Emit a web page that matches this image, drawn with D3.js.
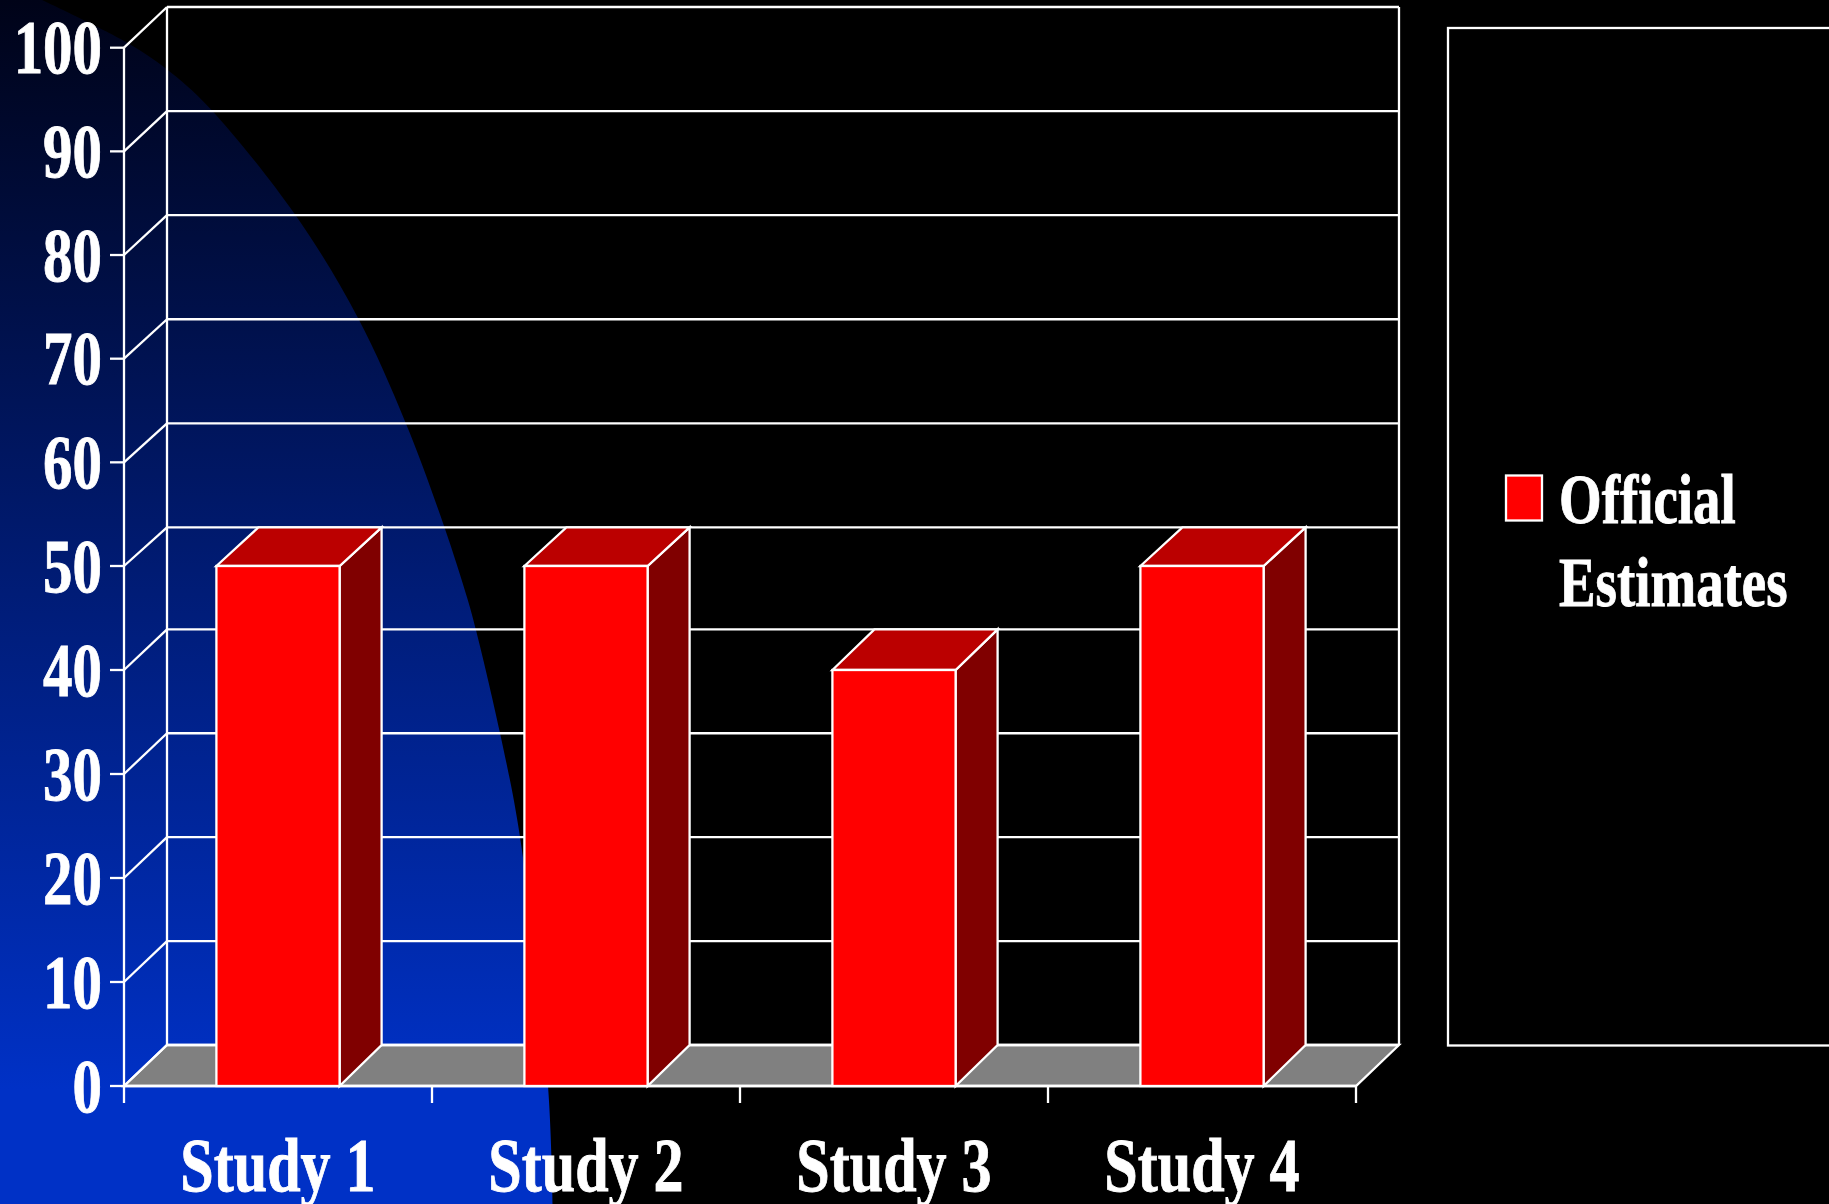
<!DOCTYPE html>
<html>
<head>
<meta charset="utf-8">
<title>Official Estimates by Study</title>
<script src="https://cdn.jsdelivr.net/npm/d3@7/dist/d3.min.js"></script>
<style>
  html, body { margin: 0; padding: 0; background: #000; overflow: hidden; }
  svg { display: block; }
  text { font-family: "Liberation Serif", serif; font-weight: bold; fill: #fff; stroke: #fff; stroke-width: 0.9px; }
</style>
</head>
<body>
<svg id="chart" width="1829" height="1204"></svg>
<script>
// Chart values
const categories = ["Study 1", "Study 2", "Study 3", "Study 4"];
const officialEstimates = [50, 50, 40, 50];
const yTicks = [0, 10, 20, 30, 40, 50, 60, 70, 80, 90, 100];
const legendLines = ["Official", "Estimates"];

// Slide backdrop: outline of the blue swoosh on the left edge
const swooshEdge = [
  [42, 0], [126, 42], [166.5, 69], [208.6, 107], [294.7, 214], [358, 318],
  [405.7, 423], [444, 526], [467.5, 599], [475.7, 629], [500, 733], [520, 837],
  [548, 1086], [552.7, 1204]
];

const WIDTH = 1829, HEIGHT = 1204;
const wallDepthX = 43;                   // horizontal offset of the back wall
const barDepthX = 42;                    // horizontal extrusion of each bar
const plot = { left: 124, right: 1356, top: 47.7, bottom: 1086 };
const colors = {
  line: "#ffffff", face: "#ff0000", top: "#bb0000", side: "#800000", floor: "#808080"
};
const strokeW = 2.3;

const svg = d3.select("#chart");

// Front plane and back wall each snap to slightly uneven pixel rows
const y = d3.scaleLinear().domain([0, 40, 50, 100]).range([plot.bottom, 670, 566, plot.top]);
const yBack = d3.scaleLinear().domain([0, 40, 50, 100]).range([1045, 629.3, 527.4, 7]);
const x = d3.scaleBand().domain(categories)
  .range([plot.left, plot.right])
  .paddingInner(0.6).paddingOuter(0.3);

// Backdrop gradient and swoosh
const defs = svg.append("defs");
const grad = defs.append("linearGradient")
  .attr("id", "swoosh").attr("gradientUnits", "userSpaceOnUse")
  .attr("x1", 0).attr("y1", 0).attr("x2", 0).attr("y2", 1090);
grad.append("stop").attr("offset", 0).attr("stop-color", "#000318");
grad.append("stop").attr("offset", 1).attr("stop-color", "#0031c6");

svg.append("rect").attr("width", WIDTH).attr("height", HEIGHT).attr("fill", "#000");

const edgePath = d3.line().curve(d3.curveCatmullRom.alpha(0.5))(swooshEdge);
svg.append("path")
  .attr("d", edgePath + `L0,${HEIGHT}L0,0Z`)
  .attr("fill", "url(#swoosh)");

const lineAttrs = sel => sel
  .attr("stroke", colors.line).attr("stroke-width", strokeW).attr("fill", "none");

// Floor
const floorPts = [
  [plot.left, y(0)], [plot.left + wallDepthX, yBack(0)],
  [plot.right + wallDepthX, yBack(0)], [plot.right, y(0)]
];
svg.append("polygon")
  .attr("points", floorPts.join(" "))
  .call(lineAttrs).attr("fill", colors.floor);

// Gridlines: back wall plus the diagonal run across the left wall
const grid = svg.append("g");
grid.selectAll("line.back").data(yTicks).join("line").attr("class", "back")
  .attr("x1", plot.left + wallDepthX).attr("x2", plot.right + wallDepthX)
  .attr("y1", d => yBack(d)).attr("y2", d => yBack(d))
  .call(lineAttrs);
grid.selectAll("line.diag").data(yTicks).join("line").attr("class", "diag")
  .attr("x1", plot.left).attr("x2", plot.left + wallDepthX)
  .attr("y1", d => y(d)).attr("y2", d => yBack(d))
  .call(lineAttrs);
grid.append("line")
  .attr("x1", plot.left + wallDepthX).attr("x2", plot.left + wallDepthX)
  .attr("y1", yBack(100)).attr("y2", yBack(0)).call(lineAttrs);
grid.append("line")
  .attr("x1", plot.right + wallDepthX).attr("x2", plot.right + wallDepthX)
  .attr("y1", yBack(100)).attr("y2", yBack(0)).call(lineAttrs);

// Value axis
const yAxis = svg.append("g");
yAxis.append("line")
  .attr("x1", plot.left).attr("x2", plot.left)
  .attr("y1", y(100)).attr("y2", y(0)).call(lineAttrs);
yAxis.selectAll("line.tick").data(yTicks).join("line").attr("class", "tick")
  .attr("x1", plot.left - 14).attr("x2", plot.left)
  .attr("y1", d => y(d)).attr("y2", d => y(d)).call(lineAttrs);
yAxis.selectAll("text").data(yTicks).join("text")
  .attr("text-anchor", "end")
  .attr("font-size", 77)
  .attr("transform", d => `translate(102,${y(d) + 25.5}) scale(0.765,1)`)
  .text(d => d);

// Category axis: ticks sit on the band boundaries
const edges = d3.range(categories.length + 1).map(i => plot.left + i * x.step());
const xAxis = svg.append("g");
xAxis.append("line")
  .attr("x1", plot.left).attr("x2", plot.right)
  .attr("y1", y(0)).attr("y2", y(0)).call(lineAttrs);
xAxis.selectAll("line.tick").data(edges).join("line").attr("class", "tick")
  .attr("x1", d => d).attr("x2", d => d)
  .attr("y1", y(0)).attr("y2", y(0) + 17).call(lineAttrs);
xAxis.selectAll("text").data(categories).join("text")
  .attr("text-anchor", "middle")
  .attr("font-size", 77)
  .attr("transform", d => `translate(${x(d) + x.bandwidth() / 2},1190.5) scale(0.78,1)`)
  .text(d => d);

// Extruded bars
const bars = svg.append("g").selectAll("g")
  .data(categories.map((c, i) => ({ c, v: officialEstimates[i] })))
  .join("g");
const corners = d => {
  const l = x(d.c), r = l + x.bandwidth();
  return { l, r, t: y(d.v), tb: yBack(d.v), b: y(0), bb: yBack(0) };
};
bars.append("polygon")                    // right side
  .attr("points", d => {
    const { r, t, tb, b, bb } = corners(d);
    return [[r, t], [r + barDepthX, tb], [r + barDepthX, bb], [r, b]].join(" ");
  })
  .call(lineAttrs).attr("fill", colors.side);
bars.append("polygon")                    // top
  .attr("points", d => {
    const { l, r, t, tb } = corners(d);
    return [[l, t], [l + barDepthX, tb], [r + barDepthX, tb], [r, t]].join(" ");
  })
  .call(lineAttrs).attr("fill", colors.top);
bars.append("rect")                       // front
  .attr("x", d => corners(d).l).attr("y", d => corners(d).t)
  .attr("width", x.bandwidth()).attr("height", d => y(0) - y(d.v))
  .call(lineAttrs).attr("fill", colors.face);

// Legend, whose box runs off the right edge of the slide
const legend = svg.append("g");
legend.append("rect")
  .attr("x", 1448).attr("y", 28).attr("width", 500).attr("height", 1017.5)
  .call(lineAttrs);
legend.append("rect")
  .attr("x", 1506).attr("y", 475.5).attr("width", 36).attr("height", 45)
  .call(lineAttrs).attr("fill", colors.face);
legend.selectAll("text").data(legendLines).join("text")
  .attr("font-size", 69)
  .attr("transform", (d, i) => `translate(1559,${522.5 + i * 83}) scale(0.795,1)`)
  .text(d => d);
</script>
</body>
</html>
